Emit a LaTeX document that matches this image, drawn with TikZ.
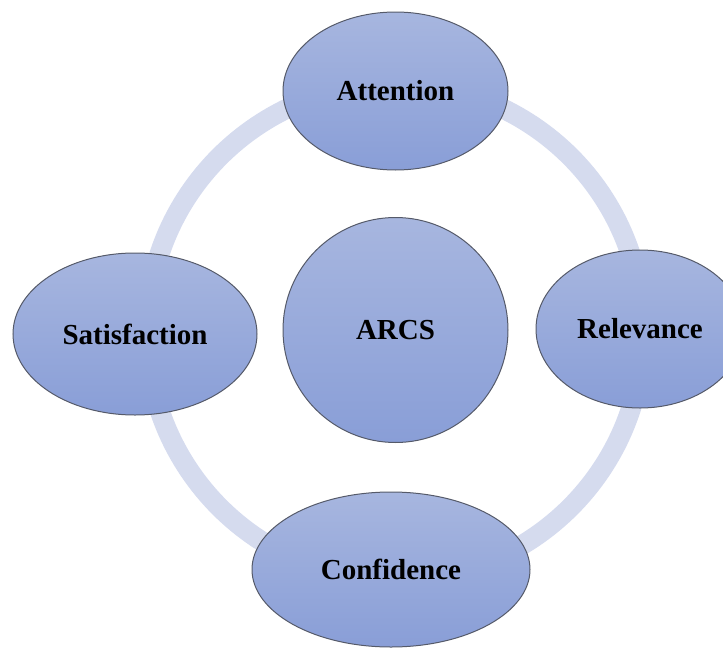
\documentclass[tikz,border=0pt]{standalone}
\usepackage{fontspec}
\setmainfont{Liberation Serif}
\usetikzlibrary{shapes.geometric}
\definecolor{ringc}{RGB}{213,219,238}
\definecolor{topc}{RGB}{167,182,223}
\definecolor{botc}{RGB}{137,158,215}
\definecolor{edgec}{RGB}{85,90,105}
\tikzset{
  bubble/.style={ellipse, draw=edgec, line width=1pt, top color=topc, bottom color=botc,
    inner sep=0pt, font=\fontsize{29}{34}\selectfont\bfseries, text=black},
}
\begin{document}
\begin{tikzpicture}[x=1pt,y=-1pt]
\useasboundingbox (0,0) rectangle (723,648);
\clip (0,0) rectangle (723,648);
\coordinate (ctr) at (395,332);
\draw[ringc, line width=20pt] (ctr) circle[radius=248];
\node[bubble, minimum width=225pt, minimum height=225pt] (arcs) at (395.5,330) {ARCS};
\node[bubble, minimum width=225pt, minimum height=158pt] (att) at (395.5,91) {Attention};
\node[bubble, minimum width=208pt, minimum height=158pt] (rel) at (640,329) {Relevance};
\node[bubble, minimum width=278pt, minimum height=155pt] (conf) at (391,569.5) {Confidence};
\node[bubble, minimum width=244pt, minimum height=162pt] (sat) at (135,334) {Satisfaction};
\end{tikzpicture}
\end{document}
